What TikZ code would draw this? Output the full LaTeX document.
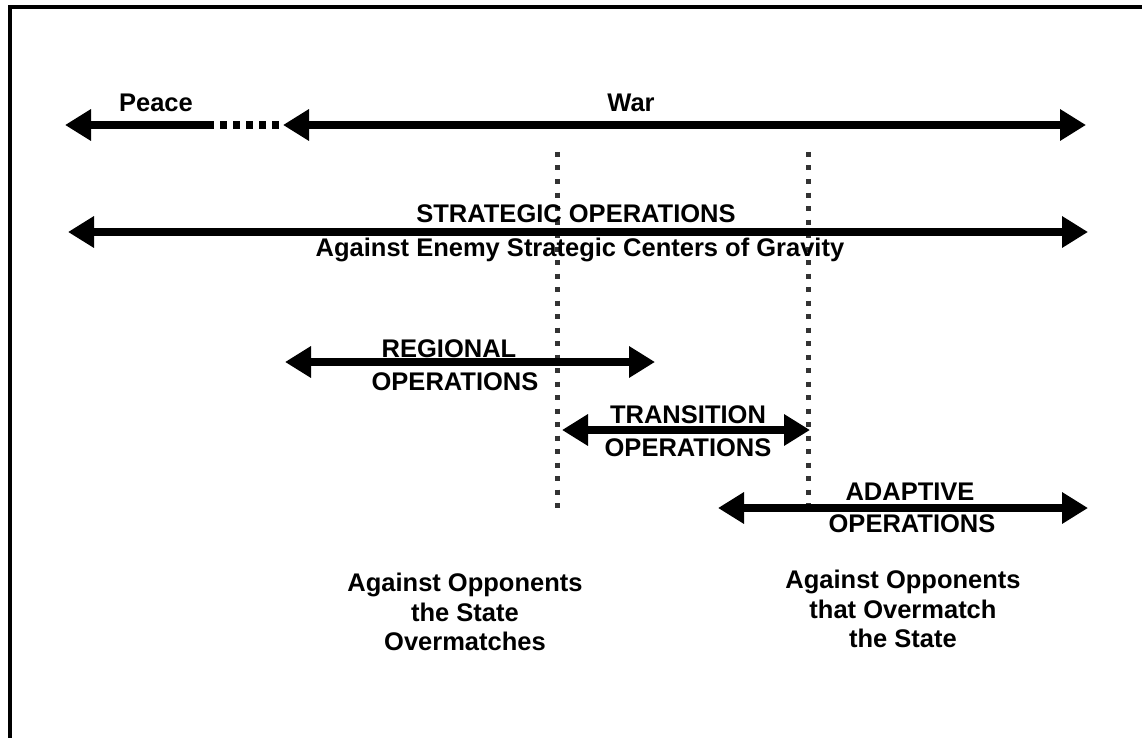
\documentclass[tikz,border=0pt]{standalone}
\usepackage{fontspec}
\setmainfont{Liberation Sans}
\usetikzlibrary{arrows.meta}
\begin{document}
\begin{tikzpicture}[x=1pt,y=-1pt,
  bar/.style={line width=7.5pt},
  twoway/.style={bar,{Triangle[length=26pt,width=30pt]}-{Triangle[length=26pt,width=30pt]}},
  leftway/.style={bar,{Triangle[length=26pt,width=30pt]}-},
  dotbar/.style={line width=7.5pt,dash pattern=on 7pt off 6pt},
  divider/.style={line width=5pt,black!80,dash pattern=on 5pt off 8.5pt},
  lbl/.style={font=\bfseries\fontsize{25.5}{30}\selectfont,align=center,inner sep=0pt},
  captiontext/.style={lbl,font=\bfseries\fontsize{25.5}{29.5}\selectfont},
  frame/.style={line width=4pt}]
\useasboundingbox (0,0) rectangle (1142,738);
% frame: top and left edges
\coordinate (fTL) at (10,7);
\coordinate (fTR) at (1142,7);
\coordinate (fBL) at (10,738);
\draw[frame] (fTR) -- (fTL) -- (fBL);

% peace / war
\coordinate (pL) at (65,125);
\coordinate (pM) at (207,125);
\coordinate (wL) at (283,125);
\coordinate (wR) at (1086,125);
\draw[leftway] (pL) -- (pM);
\draw[dotbar] (pM) -- (wL);
\draw[twoway] (wL) -- (wR);
\node[lbl] (peace) at (156,103) {Peace};
\node[lbl] (war) at (631,103) {War};

% dividers
\coordinate (d1T) at (557,152);
\coordinate (d1B) at (557,512);
\coordinate (d2T) at (808,152);
\coordinate (d2B) at (808,512);
\draw[divider] (d1T) -- (d1B);
\draw[divider] (d2T) -- (d2B);

% strategic
\coordinate (sL) at (68,232);
\coordinate (sR) at (1088,232);
\draw[twoway] (sL) -- (sR);
\node[lbl] (strat) at (576,214) {STRATEGIC OPERATIONS};
\node[lbl] (stratsub) at (580,250) {Against Enemy Strategic Centers of Gravity};

% regional
\coordinate (rL) at (285,362);
\coordinate (rR) at (655,362);
\draw[twoway] (rL) -- (rR);
\node[lbl] (reg1) at (449,349) {REGIONAL};
\node[lbl] (reg2) at (455,382) {OPERATIONS};

% transition
\coordinate (tL) at (562,430);
\coordinate (tR) at (810,430);
\draw[twoway] (tL) -- (tR);
\node[lbl] (tr1) at (688,415) {TRANSITION};
\node[lbl] (tr2) at (688,448) {OPERATIONS};

% adaptive
\coordinate (aL) at (718,508);
\coordinate (aR) at (1088,508);
\draw[twoway] (aL) -- (aR);
\node[lbl] (ad1) at (910,492) {ADAPTIVE};
\node[lbl] (ad2) at (912,524) {OPERATIONS};

% opponent captions
\node[captiontext] (opp1) at (465,612) {Against Opponents\\the State\\Overmatches};
\node[captiontext] (opp2) at (903,609) {Against Opponents\\that Overmatch\\the State};
\end{tikzpicture}
\end{document}
